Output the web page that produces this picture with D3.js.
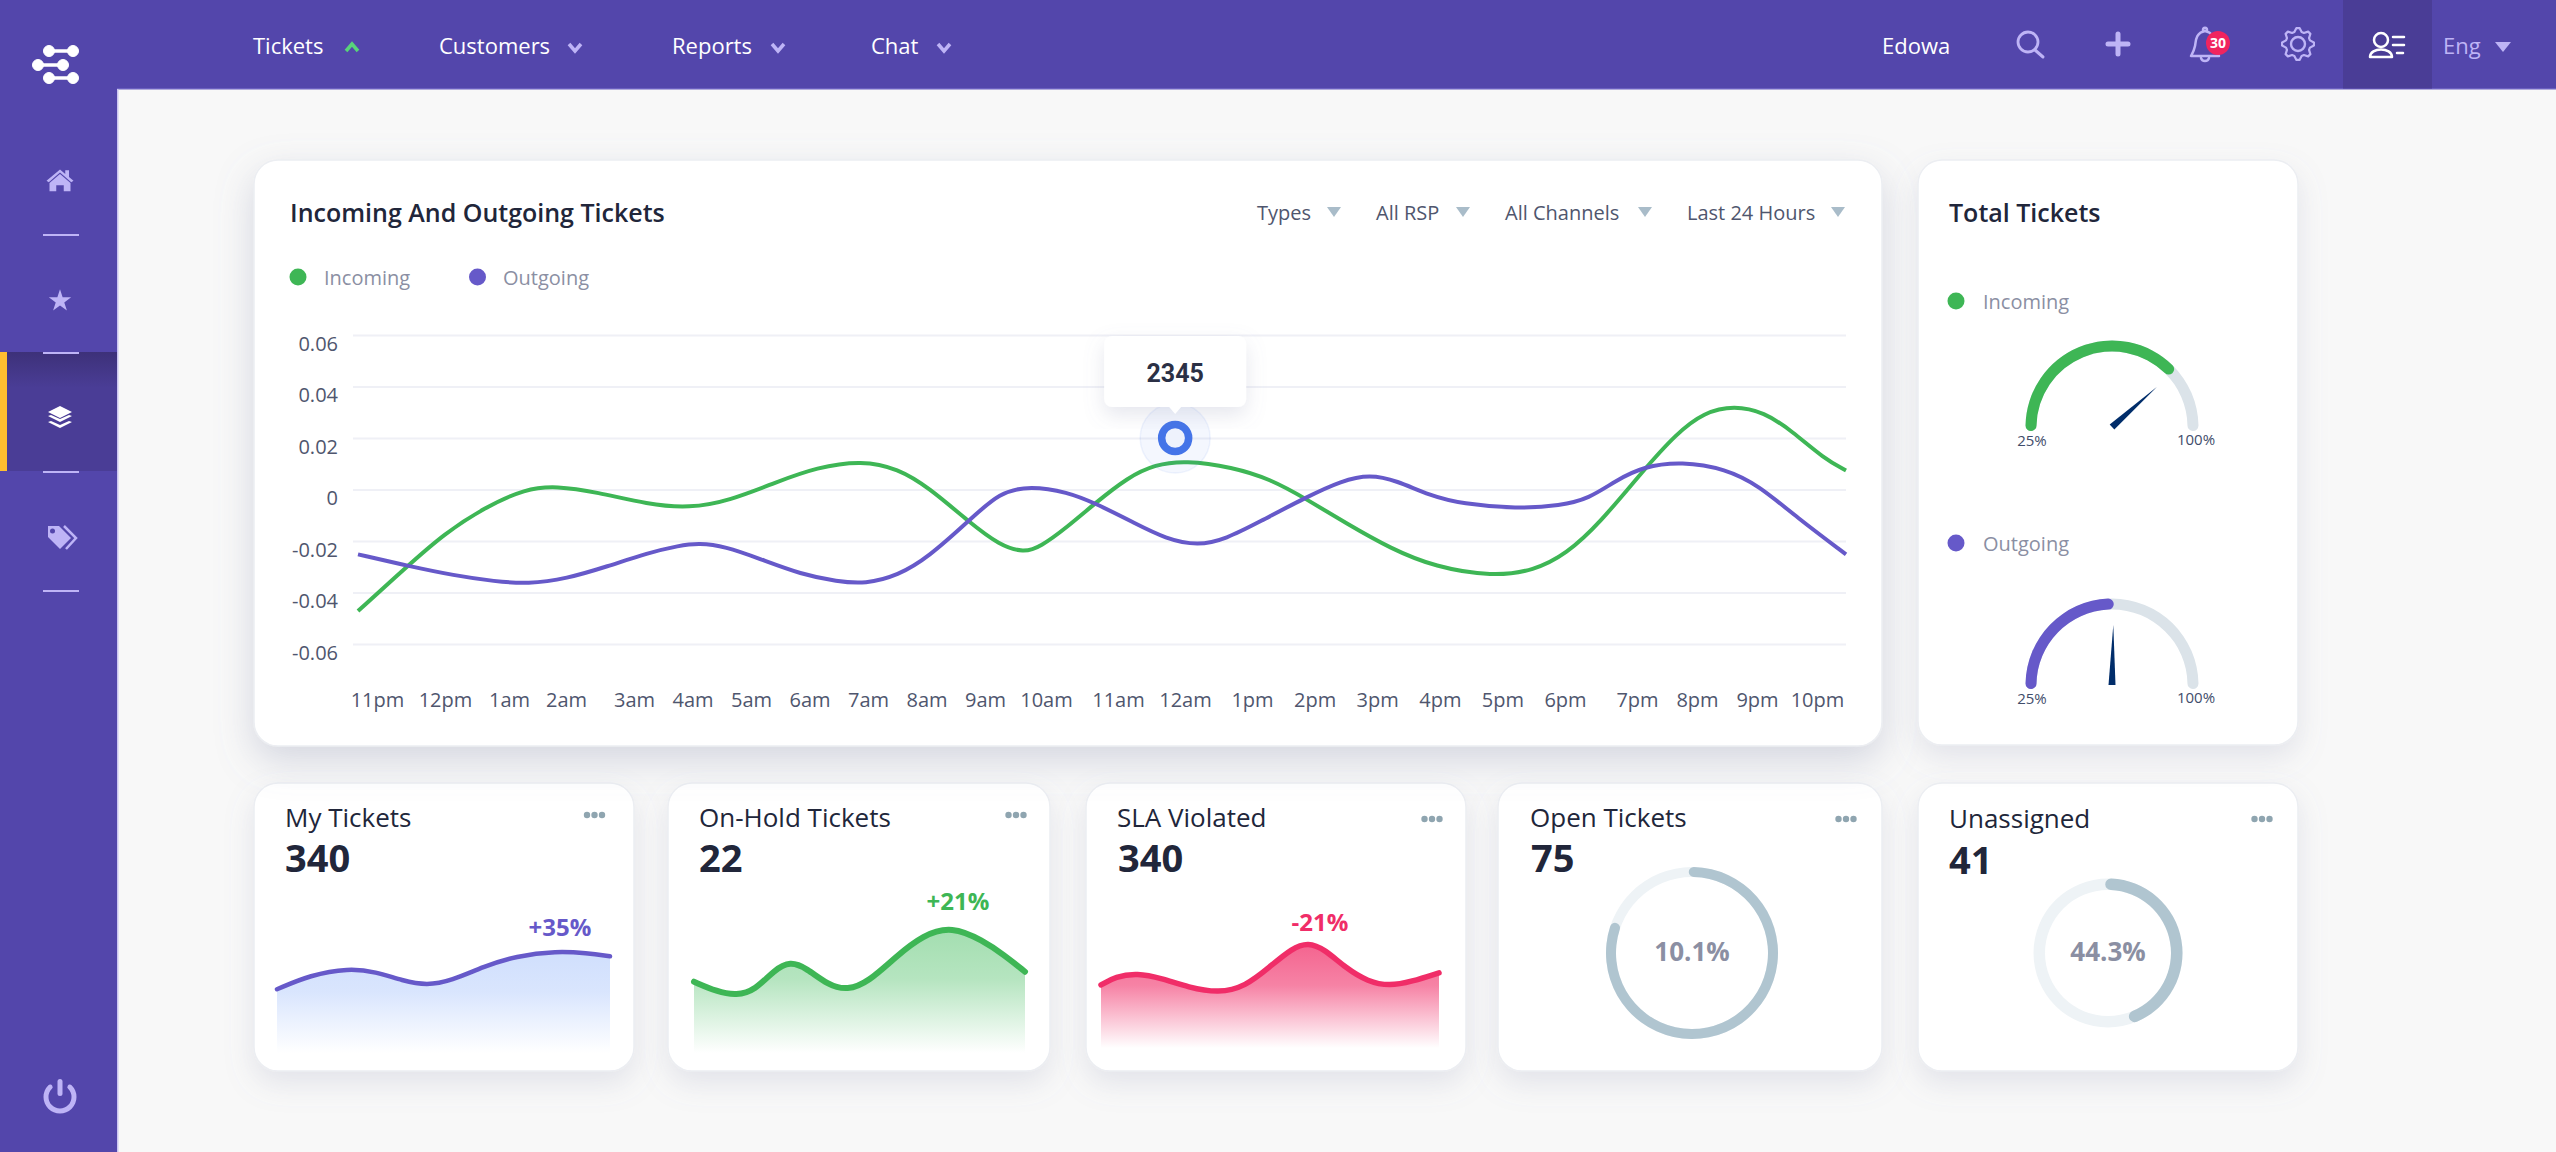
<!DOCTYPE html>
<html>
<head>
<meta charset="utf-8">
<style>
  html, body { margin: 0; padding: 0; background: #f8f8f8; overflow: hidden; }
  svg { display: block; font-family: "Open Sans", sans-serif; }
</style>
<script src="https://cdn.jsdelivr.net/npm/d3@7"></script>
</head>
<body>
<div id="container"></div>
<script>
const hours = ["11pm","12pm","1am","2am","3am","4am","5am","6am","7am","8am","9am","10am","11am","12am","1pm","2pm","3pm","4pm","5pm","6pm","7pm","8pm","9pm","10pm"];
const yTicks = [0.06, 0.04, 0.02, 0, -0.02, -0.04, -0.06];

const incomingT = [0,0.81,1.39,2.05,2.7,3.2,3.85,4.68,5.34,6,6.74,7.4,8.13,8.71,9.2,9.86,10.35,10.74,11,11.44,11.88,12.42,12.86,13.34,14.1,14.71,15.29,15.95,16.66,17.37,18.3,18.97,19.49,20.02,20.73,21.26,21.71,22.2,22.68,23.12,23.65,24];
const incomingV = [-0.0472,-0.0295,-0.0172,-0.0069,0.0003,0.0014,-0.001,-0.0058,-0.0073,-0.0043,0.0028,0.0086,0.0113,0.0081,0.0009,-0.0127,-0.0217,-0.0245,-0.0224,-0.0146,-0.0055,0.0048,0.0097,0.0113,0.0087,0.0041,-0.0036,-0.0133,-0.023,-0.0301,-0.0338,-0.0315,-0.025,-0.0133,0.0074,0.0216,0.03,0.0326,0.03,0.0229,0.0119,0.0074];
const outgoingT = [0,0.81,1.55,2.21,2.74,3.36,4.02,4.68,5.18,5.5,5.92,6.48,7.15,7.73,8.18,8.71,9.2,9.86,10.35,10.85,11.44,11.88,12.5,13.03,13.55,14,14.53,15.29,15.87,16.32,16.75,17.28,17.81,18.69,19.4,19.85,20.29,20.73,21.35,22.06,22.59,23.2,24];
const outgoingV = [-0.0252,-0.0297,-0.0334,-0.0357,-0.0367,-0.0347,-0.0299,-0.0246,-0.0218,-0.0208,-0.0221,-0.0269,-0.033,-0.0357,-0.0367,-0.0334,-0.0263,-0.012,-0.001,0.0014,-0.001,-0.0052,-0.0127,-0.0192,-0.0218,-0.0192,-0.0127,-0.003,0.0035,0.0058,0.0035,-0.0023,-0.0056,-0.0075,-0.0062,-0.0036,0.0035,0.0089,0.0109,0.008,0.0016,-0.0107,-0.0252];
const markerT = 13.18;
const markerV = 0.02;
const markerLabel = "2345";

const filterNames = ["Types", "All RSP", "All Channels", "Last 24 Hours"];
const gaugeNames = ["Incoming", "Outgoing"];
const gaugeValues = [82, 63];

const cardTitles = ["My Tickets", "On-Hold Tickets", "SLA Violated", "Open Tickets", "Unassigned"];
const cardValues = ["340", "22", "340", "75", "41"];
const sparkLabels = ["+35%", "+21%", "-21%"];

const myT = [0,10,21.5,29.6,37.7,45,52.4,62,71.7,84,93,100];
const myV = [23.6,28.9,31.4,30.1,26.8,25,26.8,32,35.9,37.8,37,35.8];
const holdT = [0,7,12.8,18.5,24.2,29.1,34,40.5,46.3,52.8,61,69.2,77.9,87.2,93.7,100];
const holdV = [26.4,22.7,21.3,23.3,30.7,34,31.4,25.2,23.2,26.4,35.7,43.7,47,41.7,36.3,30.1];
const slaT = [0,4.3,10.7,17.9,25.9,34.8,42.7,50,56.5,61.3,66.1,72.5,79,85.4,91.8,100];
const slaV = [25.2,28.3,29.6,27.7,24.3,22.2,24.6,32,38.8,41,38.5,31.4,26.4,24.8,26.4,29.7];

const donutLabels = ["10.1%", "44.3%"];
const donutShares = [0.81, 0.45];

const purple = "#5346ab", purpleDark = "#4a3d96", lavender = "#beb4f6";
const green = "#3eb655", violet = "#6659c9", pink = "#f02d68";
const ink = "#21263a", grey = "#8b8fa3", slate = "#4f566e";

const svg = d3.select("#container").append("svg").attr("width", 2556).attr("height", 1152);
const defs = svg.append("defs");

function shadow(id, dy, blur, opacity) {
  const f = defs.append("filter").attr("id", id).attr("x", "-20%").attr("y", "-20%").attr("width", "140%").attr("height", "150%");
  f.append("feDropShadow").attr("dx", 0).attr("dy", dy).attr("stdDeviation", blur).attr("flood-color", "#8087a8").attr("flood-opacity", opacity);
}
shadow("bigShadow", 14, 18, 0.3);
shadow("cardShadow", 12, 14, 0.18);
shadow("tipShadow", 8, 10, 0.2);

function fade(id, top) {
  const g = defs.append("linearGradient").attr("id", id).attr("x1", 0).attr("y1", 0).attr("x2", 0).attr("y2", 1);
  g.append("stop").attr("offset", 0).attr("stop-color", top);
  g.append("stop").attr("offset", 0.4).attr("stop-color", top).attr("stop-opacity", 0.8);
  g.append("stop").attr("offset", 1).attr("stop-color", top).attr("stop-opacity", 0);
}
fade("fadeBlue", "#d0dffd");
fade("fadeGreen", "#a3deb0");
fade("fadePink", "#f4648f");
const activeGrad = defs.append("linearGradient").attr("id", "activeGrad").attr("x1", 0).attr("y1", 0).attr("x2", 0).attr("y2", 1);
activeGrad.append("stop").attr("offset", 0).attr("stop-color", "#3d3179");
activeGrad.append("stop").attr("offset", 0.3).attr("stop-color", purpleDark);

function text(parent, x, y, str, size, fill, weight, anchor) {
  return parent.append("text").attr("x", x).attr("y", y).attr("dy", "0.35em")
    .attr("font-size", size).attr("fill", fill).attr("font-weight", weight || 400)
    .attr("text-anchor", anchor || "start").text(str);
}

function card(x, y, w, h, filter) {
  return svg.append("rect").attr("x", x).attr("y", y).attr("width", w).attr("height", h).attr("rx", 24)
    .attr("fill", "#fff").attr("stroke", "#eceef2").attr("stroke-width", 1.5).attr("filter", `url(#${filter})`);
}

// bottom row goes first so the big card's shadow falls on it
const cardBoxes = [[254, 380], [668, 382], [1086, 380], [1498, 384], [1918, 380]];
cardBoxes.forEach(([x, w]) => card(x, 783, w, 288, "cardShadow"));
card(254, 160, 1628, 586, "bigShadow");
card(1918, 160, 380, 585, "cardShadow");

// main chart
const x = d3.scaleLinear().domain([0, 24]).range([358, 1846]);
const y = d3.scaleLinear().domain([-0.06, 0.06]).range([644, 335]);
const labelX = d3.scaleLinear()
  .domain([0, 1, 2, 3, 4, 10, 11, 12, 14, 19, 20, 23])
  .range([377, 445, 509, 566, 634, 985, 1046, 1118, 1252, 1565, 1637, 1817]);

const yAxis = svg.append("g").attr("transform", "translate(353,0)")
  .call(d3.axisLeft(y).tickValues(yTicks).tickSize(-1493).tickPadding(15).tickFormat(d => d === 0 ? "0" : d3.format(".2f")(d).replace("\u2212", "-")));
yAxis.select(".domain").remove();
yAxis.selectAll("line").attr("stroke", "#eff0f6").attr("stroke-width", 2);
yAxis.selectAll("text").attr("font-size", 20).attr("fill", slate).attr("font-family", "Open Sans").attr("dy", 15);

const xAxis = svg.append("g").attr("transform", "translate(0,683)")
  .call(d3.axisBottom(labelX).tickValues(d3.range(hours.length)).tickSize(0).tickPadding(10).tickFormat(i => hours[i]));
xAxis.select(".domain").remove();
xAxis.selectAll("text").attr("font-size", 20).attr("fill", slate).attr("font-family", "Open Sans");

const series = [[incomingT, incomingV, green], [outgoingT, outgoingV, violet]];
series.forEach(([ts, vs, color]) => {
  const line = d3.line().x(i => x(ts[i])).y(i => y(vs[i])).curve(d3.curveBasis);
  svg.append("path").attr("d", line(d3.range(ts.length))).attr("fill", "none").attr("stroke", color).attr("stroke-width", 4);
});

// title, filters, legend
text(svg, 290, 213, "Incoming And Outgoing Tickets", 25, ink, 600);
const filterX = [1257, 1376, 1505, 1687];
const caretX = [1334, 1463, 1645, 1838];
filterNames.forEach((name, i) => {
  text(svg, filterX[i], 213, name, 20, slate, 400);
  svg.append("path").attr("d", "M-7,-5L7,-5L0,5Z").attr("transform", `translate(${caretX[i]},212)`).attr("fill", "#a9bcc9");
});
[["Incoming", green, 298, 324], ["Outgoing", violet, 477.5, 503]].forEach(([name, color, cx, tx]) => {
  svg.append("circle").attr("cx", cx).attr("cy", 277).attr("r", 8.5).attr("fill", color);
  text(svg, tx, 278, name, 20, grey, 400);
});

// tooltip and hover marker
const mx = x(markerT), my = y(markerV);
svg.append("circle").attr("cx", mx).attr("cy", my).attr("r", 35).attr("fill", "#4474e8").attr("fill-opacity", 0.06).attr("stroke", "#4474e8").attr("stroke-opacity", 0.08).attr("stroke-width", 1.5);
svg.append("circle").attr("cx", mx).attr("cy", my).attr("r", 13.5).attr("fill", "#eef2fc").attr("stroke", "#4474e8").attr("stroke-width", 7.5);
svg.append("rect").attr("x", mx - 71).attr("y", my - 102).attr("width", 142).attr("height", 71).attr("rx", 8).attr("fill", "#fff").attr("filter", "url(#tipShadow)");
svg.append("path").attr("d", `M${mx - 6},${my - 31}L${mx + 6},${my - 31}L${mx},${my - 24}Z`).attr("fill", "#fff");
text(svg, mx, my - 65, markerLabel, 25, "#2b3045", 700, "middle").attr("font-family", "Roboto");

// gauges
const gaugeAngle = d3.scaleLinear().domain([25, 100]).range([-Math.PI / 2 - 0.05, Math.PI / 2 + 0.05]);
const gaugeArc = d3.arc().innerRadius(75.5).outerRadius(86.5).cornerRadius(5.5);
text(svg, 1949, 213, "Total Tickets", 25, ink, 600);
[[427, 301, green], [685, 543, violet]].forEach(([cy, ly, color], i) => {
  svg.append("circle").attr("cx", 1956).attr("cy", ly).attr("r", 8.5).attr("fill", color);
  text(svg, 1983, ly + 1, gaugeNames[i], 20, grey, 400);
  const g = svg.append("g").attr("transform", `translate(2112,${cy})`);
  g.append("path").attr("d", gaugeArc({ startAngle: gaugeAngle(25), endAngle: gaugeAngle(100) })).attr("fill", "#dbe3e9");
  g.append("path").attr("d", gaugeArc({ startAngle: gaugeAngle(25), endAngle: gaugeAngle(gaugeValues[i]) })).attr("fill", color);
  g.append("path").attr("d", "M-3.5,0L3.5,0L0,-60Z").attr("fill", "#012d6a")
    .attr("transform", `rotate(${gaugeAngle(gaugeValues[i]) * 180 / Math.PI})`);
  text(g, -80, 14, "25%", 15, "#3f4d6b", 400, "middle");
  text(g, 84, 13, "100%", 15, "#3f4d6b", 400, "middle");
});

// ticket cards
const titleX = [285, 699, 1117, 1530, 1949];
const titleY = [818, 818, 818, 818, 819];
const valueX = [285, 699, 1118, 1531, 1949];
const valueY = [859, 859, 859, 859, 861];
const menuX = [594.5, 1016, 1432, 1846, 2262];
const menuY = [815, 815, 819, 819, 819];
cardTitles.forEach((title, i) => {
  text(svg, titleX[i], titleY[i], title, 26, ink, 500);
  text(svg, valueX[i], valueY[i], cardValues[i], 38, ink, 700);
  [-7.5, 0, 7.5].forEach(d => {
    svg.append("circle").attr("cx", menuX[i] + d).attr("cy", menuY[i]).attr("r", 3.2).attr("fill", "#8fa5b0");
  });
});

// sparklines share one value scale
const sparkY = d3.scaleLinear().domain([0, 100]).range([1053, 783]);
const sparks = [
  [myT, myV, 277, 610, violet, "fadeBlue", 560, 928, 1053, 4.5],
  [holdT, holdV, 694, 1025, green, "fadeGreen", 958, 902, 1053, 6],
  [slaT, slaV, 1101, 1439, pink, "fadePink", 1320, 923, 1048, 5.5],
];
sparks.forEach(([ts, vs, x0, x1, color, grad, lx, ly, base, sw], i) => {
  const sx = d3.scaleLinear().domain([0, 100]).range([x0, x1]);
  const idx = d3.range(ts.length);
  const area = d3.area().x(d => sx(ts[d])).y0(base).y1(d => sparkY(vs[d])).curve(d3.curveBasis);
  const line = d3.line().x(d => sx(ts[d])).y(d => sparkY(vs[d])).curve(d3.curveBasis);
  svg.append("path").attr("d", area(idx)).attr("fill", `url(#${grad})`);
  svg.append("path").attr("d", line(idx)).attr("fill", "none").attr("stroke", color).attr("stroke-width", sw).attr("stroke-linecap", "round");
  text(svg, lx, ly, sparkLabels[i], 24, color, 700, "middle");
});

// donuts
[[1692, 76, 86, 5], [2108, 63, 74.5, 5.8]].forEach(([cx, r0, r1, cr], i) => {
  const g = svg.append("g").attr("transform", `translate(${cx},953)`);
  const arc = d3.arc().innerRadius(r0).outerRadius(r1).cornerRadius(cr);
  g.append("path").attr("d", arc({ startAngle: 0, endAngle: 2 * Math.PI })).attr("fill", "#eef3f6");
  g.append("path").attr("d", arc({ startAngle: -0.04, endAngle: donutShares[i] * 2 * Math.PI })).attr("fill", "#b0c5d0");
  text(g, 0, -1, donutLabels[i], 26, grey, 700, "middle");
});

// top bar and side bar
svg.append("rect").attr("x", 117).attr("y", 0).attr("width", 2439).attr("height", 88.5).attr("fill", purple);
svg.append("rect").attr("x", 117).attr("y", 88).attr("width", 2439).attr("height", 1.5).attr("fill", "#6a5fc0");
svg.append("rect").attr("x", 0).attr("y", 0).attr("width", 117).attr("height", 1152).attr("fill", purple);
svg.append("rect").attr("x", 117).attr("y", 89).attr("width", 1.5).attr("height", 1063).attr("fill", "#cbc5f2");
svg.append("rect").attr("x", 0).attr("y", 352).attr("width", 117).attr("height", 119).attr("fill", "url(#activeGrad)");
svg.append("rect").attr("x", 0).attr("y", 352).attr("width", 7).attr("height", 119).attr("fill", "#ffbe30");
[235, 353, 472, 591].forEach(sy => {
  svg.append("rect").attr("x", 43).attr("y", sy - 1).attr("width", 36).attr("height", 2).attr("fill", lavender);
});

const logo = svg.append("g").attr("fill", "#fff").attr("stroke", "#fff");
[[49, 73, 51], [38, 63, 65], [49, 73, 78]].forEach(([a, b, ly]) => {
  logo.append("line").attr("x1", a).attr("x2", b).attr("y1", ly).attr("y2", ly).attr("stroke-width", 3.5);
  logo.append("circle").attr("cx", a).attr("cy", ly).attr("r", 5.5);
  logo.append("circle").attr("cx", b).attr("cy", ly).attr("r", 5.5);
});

function icon(px, py, d, fill) {
  return svg.append("path").attr("transform", `translate(${px},${py})`).attr("d", d).attr("fill", fill || lavender);
}
icon(60, 181, "M-14,11L-14,0L0,-12L14,0L14,11L5,11L5,3L-5,3L-5,11Z M-15,-1L-18,-3L0,-18L7,-12L7,-17L12,-17L12,-8L18,-3L15,-1L0,-14Z").attr("transform", "translate(60,183) scale(0.75)");
svg.append("path").attr("transform", "translate(60,301)").attr("d", d3.symbol(d3.symbolStar, 155)()).attr("fill", lavender);
icon(60, 412, "M0,-6L12,0L0,6L-12,0Z", "#fff");
icon(60, 419, "M-12,-3L-9,-4L0,0L9,-4L12,-3L0,3Z", "#fff");
icon(60, 425, "M-12,-3L-9,-4L0,0L9,-4L12,-3L0,3Z", "#fff");
icon(58, 537, "M-10,-11L1,-11L13,1L2,12L-10,0Z", lavender);
svg.append("circle").attr("cx", 52.5).attr("cy", 531).attr("r", 2.5).attr("fill", purple);
svg.append("path").attr("d", "M64,526L76,538L66,549").attr("fill", "none").attr("stroke", lavender).attr("stroke-width", 2.5);
svg.append("path").attr("d", d3.arc().innerRadius(11.5).outerRadius(16.5).cornerRadius(2.5)({ startAngle: 0.6, endAngle: 2 * Math.PI - 0.6 })).attr("transform", "translate(60,1097)").attr("fill", lavender);
svg.append("rect").attr("x", 57.5).attr("y", 1079).attr("width", 5).attr("height", 17).attr("rx", 2.5).attr("fill", lavender);

// nav
const navNames = ["Tickets", "Customers", "Reports", "Chat"];
const navX = [253, 439, 672, 871];
const navCaret = [352, 575, 778, 944];
navNames.forEach((name, i) => {
  text(svg, navX[i], 46, name, 22, "#fff", 500);
  const up = i === 0;
  svg.append("path").attr("d", up ? "M-6,4L0,-3L6,4" : "M-6,-3L0,4L6,-3").attr("transform", `translate(${navCaret[i]},47)`)
    .attr("fill", "none").attr("stroke", up ? "#58d37a" : lavender).attr("stroke-width", 3.5);
});
text(svg, 1882, 46, "Edowa", 22, "#fff", 500);
const strokeIcon = (d, color, sw) => svg.append("path").attr("d", d).attr("fill", "none").attr("stroke", color || lavender).attr("stroke-width", sw || 2.5).attr("stroke-linecap", "round").attr("stroke-linejoin", "round");
svg.append("circle").attr("cx", 2028).attr("cy", 42).attr("r", 10).attr("fill", "none").attr("stroke", lavender).attr("stroke-width", 2.8);
strokeIcon("M2035,50L2043,57", lavender, 3);
strokeIcon("M2118,34L2118,54M2108,44L2128,44", lavender, 5);
strokeIcon("M2205,31C2195,33 2196,42 2195,46C2194,51 2192,54 2191,56L2219,56C2218,54 2216,51 2215,46C2214,42 2215,33 2205,31M2201,58C2202,62 2208,62 2209,58M2203,30C2203,27 2207,27 2207,30");
svg.append("circle").attr("cx", 2218).attr("cy", 43).attr("r", 12).attr("fill", "#f0245f");
text(svg, 2218, 43, "30", 14, "#fff", 700, "middle");
svg.append("circle").attr("cx", 2298).attr("cy", 44).attr("r", 7).attr("fill", "none").attr("stroke", lavender).attr("stroke-width", 2.4);
const gearPts = d3.range(32).map(i => {
  const r = i % 4 < 2 ? 16 : 12.5;
  const a = (i - 0.5) * Math.PI / 16;
  return [2298 + r * Math.sin(a), 44 - r * Math.cos(a)];
});
strokeIcon(d3.line().curve(d3.curveLinearClosed)(gearPts), lavender, 2.2);

svg.append("rect").attr("x", 2343).attr("y", 0).attr("width", 89).attr("height", 88.5).attr("fill", purpleDark);
svg.append("circle").attr("cx", 2381).attr("cy", 40).attr("r", 7).attr("fill", "none").attr("stroke", "#fff").attr("stroke-width", 2.5);
strokeIcon("M2370,57C2370,47 2392,47 2392,57Z", "#fff", 2.5);
strokeIcon("M2393,37L2404,37M2393,45L2404,45M2397,53L2403,53", "#fff", 2.5);
text(svg, 2443, 46, "Eng", 22, lavender, 400);
svg.append("path").attr("d", "M-8,-5L8,-5L0,5Z").attr("transform", "translate(2503,47)").attr("fill", lavender);
</script>
</body>
</html>
